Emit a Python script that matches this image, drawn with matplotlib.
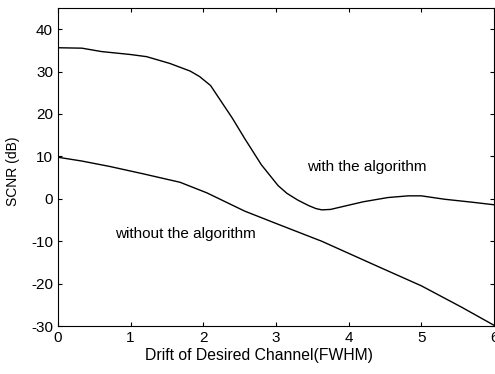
import numpy as np
import matplotlib
matplotlib.use('Agg')
import matplotlib.pyplot as plt

plt.rcParams['font.family'] = ['Liberation Sans', 'DejaVu Sans']
plt.rcParams['axes.unicode_minus'] = False

# curve with the algorithm
drift_with = [0, 0.33, 0.6, 1.0, 1.22, 1.54, 1.82, 1.95, 2.1, 2.4, 2.57, 2.8, 3.03, 3.15,
              3.3, 3.45, 3.55, 3.63, 3.75, 3.95, 4.2, 4.54, 4.82, 5.0, 5.32, 5.7, 6.0]
scnr_with = [35.6, 35.5, 34.7, 34.0, 33.5, 31.9, 30.1, 28.8, 26.7, 19.0, 14.2, 8.0, 3.1, 1.3,
             -0.3, -1.6, -2.3, -2.6, -2.5, -1.7, -0.7, 0.3, 0.7, 0.7, -0.1, -0.8, -1.4]

# curve without the algorithm
drift_without = [0, 0.33, 0.72, 1.17, 1.68, 2.05, 2.57, 3.03, 3.63, 4.41, 5.0, 5.55, 6.0]
scnr_without = [9.8, 8.9, 7.6, 5.9, 3.9, 1.4, -2.9, -6.0, -10.0, -16.0, -20.5, -25.5, -29.8]

fig = plt.figure(figsize=(4.95, 3.74), dpi=100)
ax = fig.add_axes([0.117, 0.128, 0.881, 0.851])
ax.plot(drift_with, scnr_with, color='black', lw=1)
ax.plot(drift_without, scnr_without, color='black', lw=1)

ax.text(3.43, 7.5, 'with the algorithm', fontsize=11, va='center')
ax.text(0.78, -8.2, 'without the algorithm', fontsize=11, va='center')

ax.set_xlim(0, 6)
ax.set_ylim(-30, 45)
ax.set_xticks([0, 1, 2, 3, 4, 5, 6])
ax.set_yticks([-30, -20, -10, 0, 10, 20, 30, 40])
ax.tick_params(direction='in', top=True, right=True, labelsize=11, length=3)
ax.set_xlabel('Drift of Desired Channel(FWHM)', fontsize=11.3)
ax.set_ylabel('SCNR (dB)', fontsize=10)
ax.xaxis.set_label_coords(0.46, -0.069)
ax.yaxis.set_label_coords(-0.088, 0.487)

fig.savefig('out.png', dpi=100)
